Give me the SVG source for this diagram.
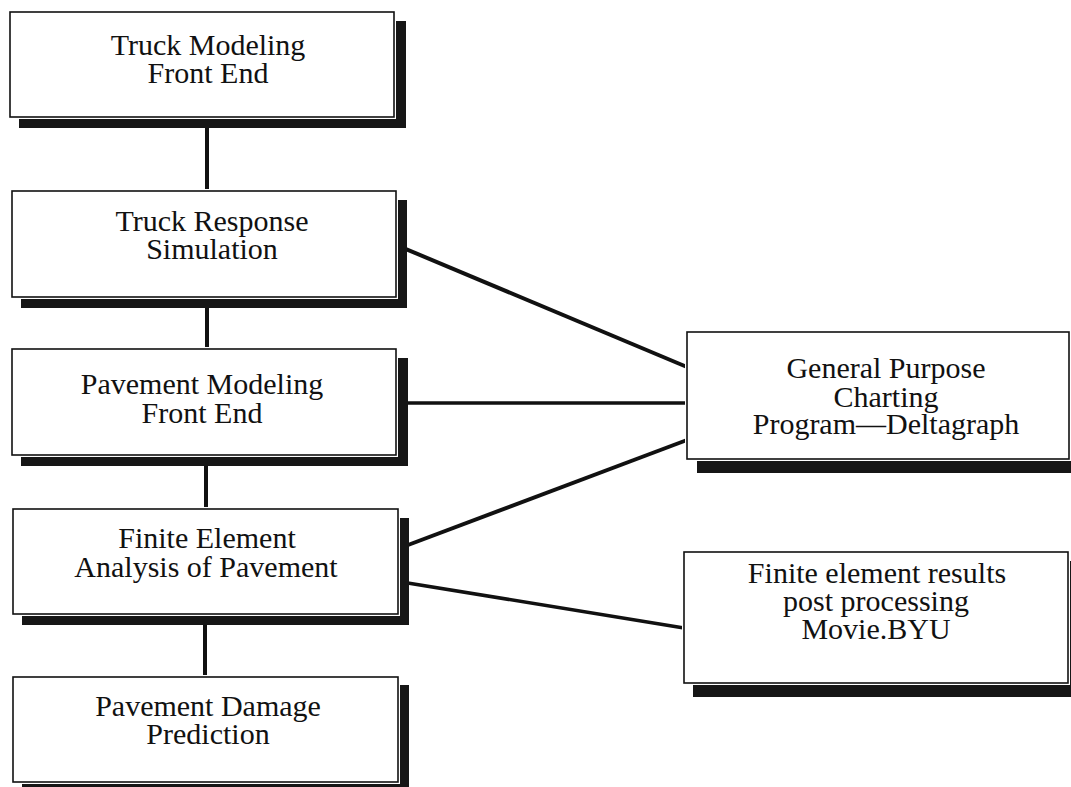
<svg xmlns="http://www.w3.org/2000/svg" width="1071" height="787" viewBox="0 0 1071 787">
  <style>
    .shadow { fill: #161616; }
    .gap { fill: #ffffff; stroke: #ffffff; stroke-width: 4; }
    .box { fill: #ffffff; stroke: #111111; stroke-width: 1.6; }
    .label { font-family: "Liberation Serif", "Times New Roman", serif; font-size: 30px; fill: #111111; text-anchor: middle; }
    .link { stroke: #111111; stroke-width: 4; fill: none; stroke-linecap: butt; }
  </style>

  <rect width="1071" height="787" fill="#ffffff"/>

  <!-- connectors -->
  <g id="connectors">
    <line class="link" x1="207" y1="117" x2="207" y2="191"/>
    <line class="link" x1="207" y1="297" x2="207" y2="349"/>
    <line class="link" x1="206" y1="455" x2="206" y2="509"/>
    <line class="link" x1="205" y1="614" x2="205" y2="677"/>
    <line class="link" x1="400" y1="246.6" x2="687" y2="367"/>
    <line class="link" x1="400" y1="403" x2="687" y2="403" style="stroke-width:3.5"/>
    <line class="link" x1="400" y1="548" x2="687" y2="440"/>
    <line class="link" x1="400" y1="581.7" x2="684" y2="628" style="stroke-width:3.5"/>
  </g>

  <!-- Truck Modeling Front End -->
  <g id="truck-modeling">
    <rect class="shadow" x="19" y="21" width="387" height="107"/>
    <rect class="gap" x="10" y="12" width="384" height="105"/>
    <rect class="box" x="10" y="12" width="384" height="105"/>
    <text class="label"><tspan x="208" y="55">Truck Modeling</tspan><tspan x="208" y="83">Front End</tspan></text>
  </g>

  <!-- Truck Response Simulation -->
  <g id="truck-response">
    <rect class="shadow" x="21" y="200" width="386" height="108"/>
    <rect class="gap" x="12" y="191" width="384" height="106"/>
    <rect class="box" x="12" y="191" width="384" height="106"/>
    <text class="label"><tspan x="212" y="231">Truck Response</tspan><tspan x="212" y="259">Simulation</tspan></text>
  </g>

  <!-- Pavement Modeling Front End -->
  <g id="pavement-modeling">
    <rect class="shadow" x="21" y="358" width="387" height="108"/>
    <rect class="gap" x="12" y="349" width="384" height="106"/>
    <rect class="box" x="12" y="349" width="384" height="106"/>
    <text class="label"><tspan x="202" y="394">Pavement Modeling</tspan><tspan x="202" y="423">Front End</tspan></text>
  </g>

  <!-- Finite Element Analysis of Pavement -->
  <g id="fe-analysis">
    <rect class="shadow" x="22" y="518" width="387" height="107"/>
    <rect class="gap" x="13" y="509" width="385" height="105"/>
    <rect class="box" x="13" y="509" width="385" height="105"/>
    <text class="label"><tspan x="207" y="548">Finite Element</tspan><tspan x="206" y="577">Analysis of Pavement</tspan></text>
  </g>

  <!-- Pavement Damage Prediction -->
  <g id="pavement-damage">
    <rect class="shadow" x="22" y="685" width="387" height="108"/>
    <rect class="gap" x="13" y="677" width="385" height="105"/>
    <rect class="box" x="13" y="677" width="385" height="105"/>
    <text class="label"><tspan x="208" y="716">Pavement Damage</tspan><tspan x="208" y="744">Prediction</tspan></text>
  </g>

  <!-- General Purpose Charting Program -->
  <g id="charting">
    <rect class="shadow" x="697" y="341" width="385" height="132"/>
    <rect class="gap" x="687" y="332" width="382" height="127"/>
    <rect class="box" x="687" y="332" width="382" height="127"/>
    <text class="label"><tspan x="886" y="378">General Purpose</tspan><tspan x="886" y="407">Charting</tspan><tspan x="886" y="434">Program—Deltagraph</tspan></text>
  </g>

  <!-- Finite element results post processing -->
  <g id="fe-postprocessing">
    <rect class="shadow" x="693" y="561" width="390" height="136"/>
    <rect class="gap" x="684" y="552" width="384" height="131"/>
    <rect class="box" x="684" y="552" width="384" height="131"/>
    <text class="label"><tspan x="877" y="583">Finite element results</tspan><tspan x="876" y="611">post processing</tspan><tspan x="876" y="639">Movie.BYU</tspan></text>
  </g>
</svg>
